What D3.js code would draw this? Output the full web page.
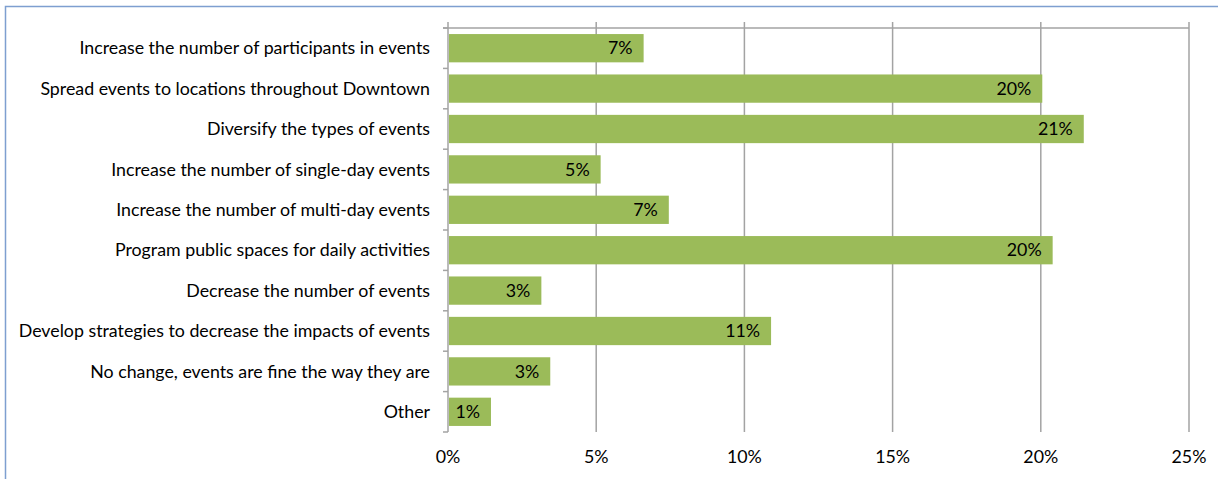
<!DOCTYPE html>
<html>
<head>
<meta charset="utf-8">
<script src="https://cdn.jsdelivr.net/npm/d3@7"></script>
<style>
  html, body { margin: 0; padding: 0; background: #fff; }
  svg text { font-family: Lato, "Open Sans", sans-serif; fill: #000; }
</style>
</head>
<body>
<div id="chart"></div>
<script>
const categories = [
  'Increase the number of participants in events',
  'Spread events to locations throughout Downtown',
  'Diversify the types of events',
  'Increase the number of single-day events',
  'Increase the number of multi-day events',
  'Program public spaces for daily activities',
  'Decrease the number of events',
  'Develop strategies to decrease the impacts of events',
  'No change, events are fine the way they are',
  'Other'
];
const values = [6.6, 20.05, 21.45, 5.15, 7.45, 20.4, 3.15, 10.9, 3.45, 1.45];
const xTicks = [0, 5, 10, 15, 20, 25];

const W = 1218, H = 479;
const plot = { left: 448, right: 1189, top: 28, bottom: 432 };
const fontSize = '17.8px';

const svg = d3.select('#chart')
  .append('svg')
  .attr('width', W)
  .attr('height', H);

// outer frame (only top/left edges visible)
svg.append('path')
  .attr('d', `M5.5,${H} V6.5 H${W}`)
  .attr('fill', 'none')
  .attr('stroke', '#7e9fd0')
  .attr('stroke-width', 1.5);

const x = d3.scaleLinear()
  .domain([0, 25])
  .range([plot.left, plot.right]);

const y = d3.scaleBand()
  .domain(categories)
  .range([plot.top, plot.bottom])
  .paddingInner(0.3)
  .paddingOuter(0.15);

const gridColor = '#a3a3a3';

// vertical grid lines
svg.append('g')
  .selectAll('line')
  .data(xTicks.slice(1))
  .enter()
  .append('line')
  .attr('x1', d => x(d))
  .attr('x2', d => x(d))
  .attr('y1', plot.top - 6)
  .attr('y2', plot.bottom)
  .attr('stroke', gridColor)
  .attr('stroke-width', 1.5);

// top line
svg.append('line')
  .attr('x1', plot.left - 5)
  .attr('x2', plot.right)
  .attr('y1', plot.top)
  .attr('y2', plot.top)
  .attr('stroke', gridColor)
  .attr('stroke-width', 1.5);

// category axis with ticks at band boundaries
const step = y.step();
const bounds = d3.range(categories.length + 1).map(i => plot.top + i * step);
const yAxisG = svg.append('g');
yAxisG.append('line')
  .attr('x1', plot.left)
  .attr('x2', plot.left)
  .attr('y1', plot.top - 6)
  .attr('y2', plot.bottom)
  .attr('stroke', gridColor)
  .attr('stroke-width', 1.5);
yAxisG.selectAll('.tick')
  .data(bounds)
  .enter()
  .append('line')
  .attr('x1', plot.left - 5)
  .attr('x2', plot.left)
  .attr('y1', d => d)
  .attr('y2', d => d)
  .attr('stroke', gridColor)
  .attr('stroke-width', 1.5);

// bars
svg.selectAll('.bar')
  .data(values)
  .enter()
  .append('rect')
  .attr('class', 'bar')
  .attr('x', x(0) + 1)
  .attr('y', (d, i) => y(categories[i]))
  .attr('width', d => x(d) - x(0) - 1)
  .attr('height', y.bandwidth())
  .attr('fill', '#9bbb59');

// value labels
svg.selectAll('.bar-label')
  .data(values)
  .enter()
  .append('text')
  .attr('class', 'bar-label')
  .attr('x', d => x(d) - 11)
  .attr('y', (d, i) => y(categories[i]) + y.bandwidth() / 2)
  .attr('dy', '0.35em')
  .attr('text-anchor', 'end')
  .style('font-size', fontSize)
  .text(d => Math.round(d) + '%');

// category labels
svg.selectAll('.cat-label')
  .data(categories)
  .enter()
  .append('text')
  .attr('class', 'cat-label')
  .attr('x', plot.left - 18)
  .attr('y', d => y(d) + y.bandwidth() / 2)
  .attr('dy', '0.35em')
  .attr('text-anchor', 'end')
  .style('font-size', fontSize)
  .text(d => d);

// x tick labels
svg.selectAll('.x-label')
  .data(xTicks)
  .enter()
  .append('text')
  .attr('class', 'x-label')
  .attr('x', d => x(d))
  .attr('y', 457)
  .attr('dy', '0.35em')
  .attr('text-anchor', 'middle')
  .style('font-size', fontSize)
  .text(d => d + '%');
</script>
</body>
</html>
